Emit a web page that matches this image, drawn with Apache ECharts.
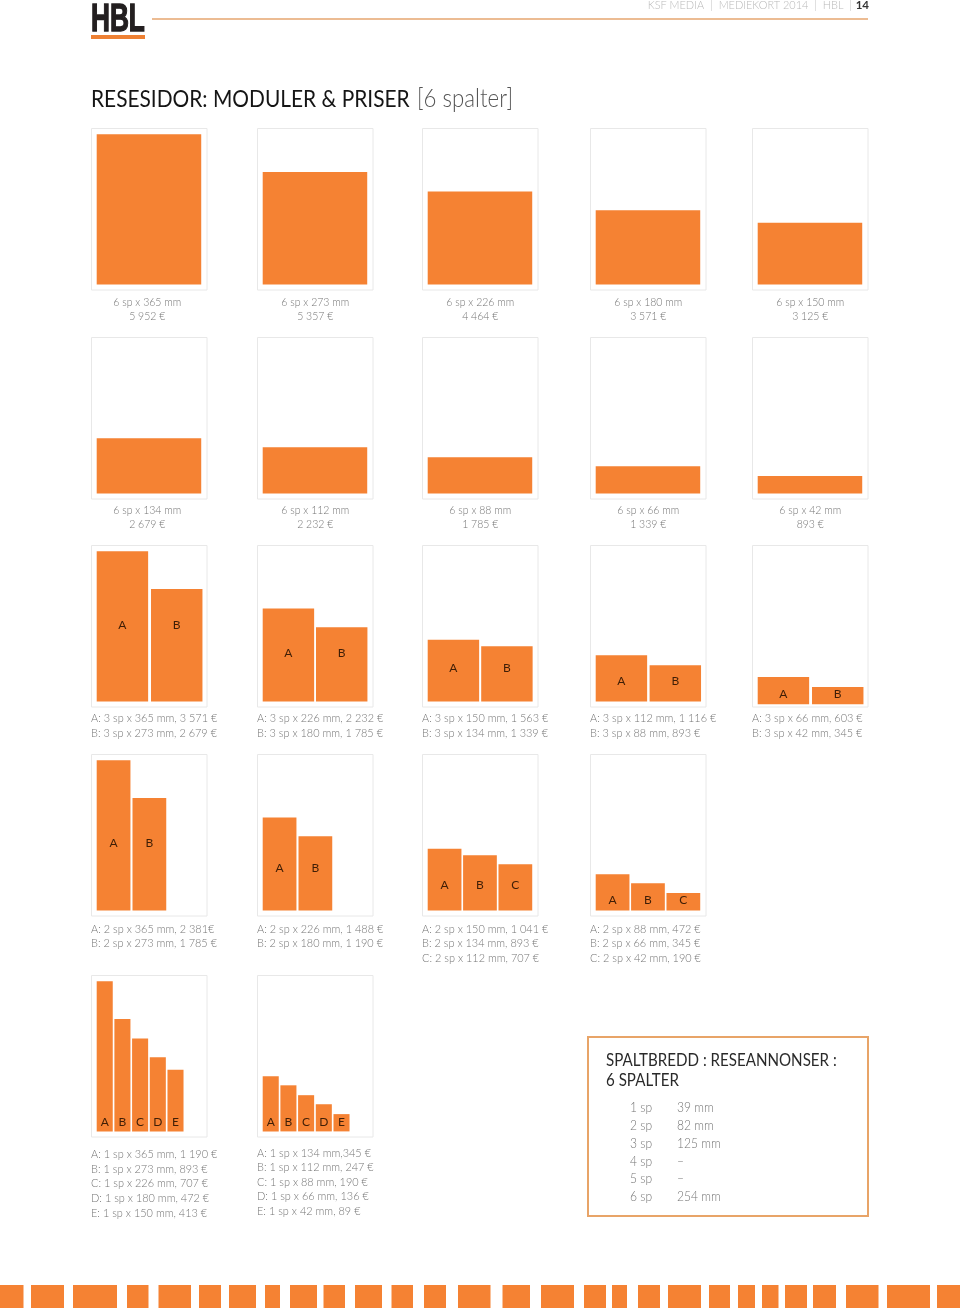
<!DOCTYPE html>
<html><head><meta charset="utf-8">
<style>html,body{margin:0;padding:0;background:#fff}#c{width:960px;height:1308px}</style>
<script src="https://cdn.jsdelivr.net/npm/echarts@6/dist/echarts.min.js"></script>
</head><body><div id="c"></div>
<script>
// ---- data ----
const pageTitle = 'RESESIDOR: MODULER & PRISER';
const pageTitleNote = '[6 spalter]';
const headerParts = 'KSF MEDIA  |  MEDIEKORT 2014  |  HBL  |';
const headerPage = '14';
const logoText = 'HBL';
const barLetters = ['A','B','C','D','E'];
// column span of each module and its heights in mm, panel by panel
const panelSpans = [6,6,6,6,6, 6,6,6,6,6, 3,3,3,3,3, 2,2,2,2, 1,1];
const panelHeights = [
  [365],[273],[226],[180],[150],
  [134],[112],[88],[66],[42],
  [365,273],[226,180],[150,134],[112,88],[66,42],
  [365,273],[226,180],[150,134,112],[88,66,42],
  [365,273,226,180,150],[134,112,88,66,42]
];
const panelCaptions = [
  ['6 sp x 365 mm','5 952 €'],['6 sp x 273 mm','5 357 €'],['6 sp x 226 mm','4 464 €'],['6 sp x 180 mm','3 571 €'],['6 sp x 150 mm','3 125 €'],
  ['6 sp x 134 mm','2 679 €'],['6 sp x 112 mm','2 232 €'],['6 sp x 88 mm','1 785 €'],['6 sp x 66 mm','1 339 €'],['6 sp x 42 mm','893 €'],
  ['A: 3 sp x 365 mm, 3 571 €','B: 3 sp x 273 mm, 2 679 €'],['A: 3 sp x 226 mm, 2 232 €','B: 3 sp x 180 mm, 1 785 €'],['A: 3 sp x 150 mm, 1 563 €','B: 3 sp x 134 mm, 1 339 €'],['A: 3 sp x 112 mm, 1 116 €','B: 3 sp x 88 mm, 893 €'],['A: 3 sp x 66 mm, 603 €','B: 3 sp x 42 mm, 345 €'],
  ['A: 2 sp x 365 mm, 2 381€','B: 2 sp x 273 mm, 1 785 €'],['A: 2 sp x 226 mm, 1 488 €','B: 2 sp x 180 mm, 1 190 €'],['A: 2 sp x 150 mm, 1 041 €','B: 2 sp x 134 mm, 893 €','C: 2 sp x 112 mm, 707 €'],['A: 2 sp x 88 mm, 472 €','B: 2 sp x 66 mm, 345 €','C: 2 sp x 42 mm, 190 €'],
  ['A: 1 sp x 365 mm, 1 190 €','B: 1 sp x 273 mm, 893 €','C: 1 sp x 226 mm, 707 €','D: 1 sp x 180 mm, 472 €','E: 1 sp x 150 mm, 413 €'],['A: 1 sp x 134 mm,345 €','B: 1 sp x 112 mm, 247 €','C: 1 sp x 88 mm, 190 €','D: 1 sp x 66 mm, 136 €','E: 1 sp x 42 mm, 89 €']
];
const widthTableTitle = ['SPALTBREDD : RESEANNONSER :','6 SPALTER'];
const widthTableSpans = ['1 sp','2 sp','3 sp','4 sp','5 sp','6 sp'];
const widthTableValues = ['39 mm','82 mm','125 mm','–','–','254 mm'];
const stripStarts = [0,31,73,127,158.5,199,229,265,290,323.5,355,391.5,424,458,502.5,541,584,612,638,668,709,738,762,785,813,846,887,937];
const stripEnds = [23.5,64,117,148.5,191,221,256,280,317,345,382,413,446,490.5,530,574,606,627,660,701,730,755,778.5,807,836,878.5,930,960];

// ---- layout ----
const FONT = 'Lato, "Open Sans", sans-serif';
const ORANGE = '#f58233', FRAME = '#e8e8e8', GREY = '#767676';
const colLeft = [91.5,257.5,422.5,590.5,752.5];
const rowTop = [128.5,337.5,545.5,754.5,975.5];
const rowCounts = [5,5,5,4,2];
const frameW = 115.5, frameH = 161.5;
const pxPerMm = 0.4115;
const COL_MM = 43, GAP_MM = 4;
// height in mm at which a panel's letters sit
const letterMm = [null,null,null,null,null,null,null,null,null,null,
  186,118,80,50,25, 164,102,61,25, 23,23];
// widening of the gutter between bars, mm, per panel
const extraGutter = [0,0,0,0,0,0,0,0,0,0, 3,0.5,1,2,3, 1,1,0,0, 0,0];
const captionLineY = [[302,316],[510,524],[718,733],[929,943,958],[1154,1169,1183,1198,1213]];
const captionLineYLast = [1153,1167,1182,1196,1211];
const captionCentreShift = [-2,0,0,0,0];

const grids = [], xAxes = [], yAxes = [], series = [], gfx = [];
function txt(x, y, text, size, fill, opt) {
  gfx.push({type:'text', x, y, silent:true, z:10, ...(opt&&opt.el),
    style:{text, x:0, y:0, fontFamily:FONT, fontSize:size, fontWeight:(opt&&opt.w)||300, fill,
      align:(opt&&opt.align)||'left', verticalAlign:'middle', ...(opt&&opt.st)}});
}
let p = 0;
rowCounts.forEach((n, r) => {
  for (let c = 0; c < n; c++, p++) {
    const idx = p, span = panelSpans[idx], hs = panelHeights[idx];
    const bottomPad = idx === 14 ? 2.8 : 5.6;
    const leftPad = 5.2;
    grids.push({left:colLeft[c], top:rowTop[r], width:frameW, height:frameH, show:true,
      backgroundColor:'#fff', borderColor:FRAME, borderWidth:1, containLabel:false});
    xAxes.push({type:'value', gridIndex:idx, min:-leftPad/pxPerMm, max:(frameW-leftPad)/pxPerMm, show:false});
    yAxes.push({type:'value', gridIndex:idx, min:-bottomPad/pxPerMm, max:(frameH-bottomPad)/pxPerMm, show:false});
    const gap = extraGutter[idx];
    series.push({type:'custom', xAxisIndex:idx, yAxisIndex:idx, silent:true, clip:false,
      data: hs.map((h,i)=>[i*(span*COL_MM+gap), span*COL_MM-GAP_MM, h]),
      renderItem(params, api){
        const x0 = api.value(0), w = api.value(1), h = api.value(2);
        const a = api.coord([x0, h]), b = api.coord([x0+w, 0]);
        const children = [{type:'rect', shape:{x:a[0], y:a[1], width:b[0]-a[0], height:b[1]-a[1]}, style:{fill:ORANGE}}];
        if (hs.length > 1) {
          const m = api.coord([x0+w/2, letterMm[idx]]);
          children.push({type:'text', style:{text:barLetters[params.dataIndex], x:m[0], y:m[1],
            align:'center', verticalAlign:'middle', fontFamily:FONT, fontSize:12, fontWeight:400, fill:'#3f1e06'}});
        }
        return {type:'group', children};
      }});
    // caption
    const ys = (idx === 20) ? captionLineYLast : captionLineY[r];
    panelCaptions[idx].forEach((line, i) => {
      if (r < 2) txt(colLeft[c]+frameW/2+captionCentreShift[c], ys[i], line, 11.8, GREY, {align:'center', el:{scaleX:0.89}});
      else txt(colLeft[c]-0.5, ys[i], line, 12, GREY, {el:{scaleX:0.91}});
    });
  }
});

// footer strip
const si = grids.length;
grids.push({left:0, top:1285, width:960, height:23});
xAxes.push({type:'value', gridIndex:si, min:0, max:960, show:false});
yAxes.push({type:'value', gridIndex:si, min:0, max:1, show:false});
series.push({type:'custom', xAxisIndex:si, yAxisIndex:si, silent:true,
  data: stripStarts.map((s,i)=>[s, stripEnds[i]]),
  renderItem(params, api){
    const a = api.coord([api.value(0),1]), b = api.coord([api.value(1),0]);
    return {type:'rect', shape:{x:a[0], y:a[1], width:b[0]-a[0], height:b[1]-a[1]}, style:{fill:ORANGE}};
  }});

// header
txt(91, 20.5, logoText, 38, '#231f20', {w:700, el:{scaleX:0.69}, st:{fontFamily:'"Liberation Sans Narrow","Liberation Sans",sans-serif', stroke:'#231f20', lineWidth:1.4}});
gfx.push({type:'rect', shape:{x:91, y:35, width:54, height:4}, style:{fill:'#ee8033'}, silent:true});
gfx.push({type:'rect', shape:{x:152, y:18, width:716, height:2}, style:{fill:'#ecbc93'}, silent:true});
txt(852, 5.5, headerParts, 12, '#b9b9b9', {align:'right', el:{scaleX:0.91}});
txt(869, 5.5, headerPage, 11.5, '#333', {align:'right', w:700});
txt(91, 99, pageTitle, 24, '#151515', {w:400, el:{scaleX:0.87}});
txt(417, 99, pageTitleNote, 25, '#555', {w:300, el:{scaleX:0.89}});

// width box
gfx.push({type:'rect', shape:{x:588, y:1037, width:280, height:179}, style:{fill:'none', stroke:'#e8a468', lineWidth:2}, silent:true});
widthTableTitle.forEach((t,i)=>txt(606, 1060+i*20, t, 18, '#2a2a2a', {w:400, el:{scaleX:0.84}}));
const tableY = [1107.5,1125.5,1143.5,1161.5,1178.5,1196.5];
widthTableSpans.forEach((t,i)=>{
  txt(630, tableY[i], t, 13, GREY, {el:{scaleX:0.93}});
  txt(677, tableY[i], widthTableValues[i], 13, GREY, {el:{scaleX:0.93}});
});

const chart = echarts.init(document.getElementById('c'), null, {renderer:'canvas', width:960, height:1308});
chart.setOption({animation:false, backgroundColor:'#fff', tooltip:{show:false},
  grid:grids, xAxis:xAxes, yAxis:yAxes, series, graphic:{elements:gfx}});
</script></body></html>
